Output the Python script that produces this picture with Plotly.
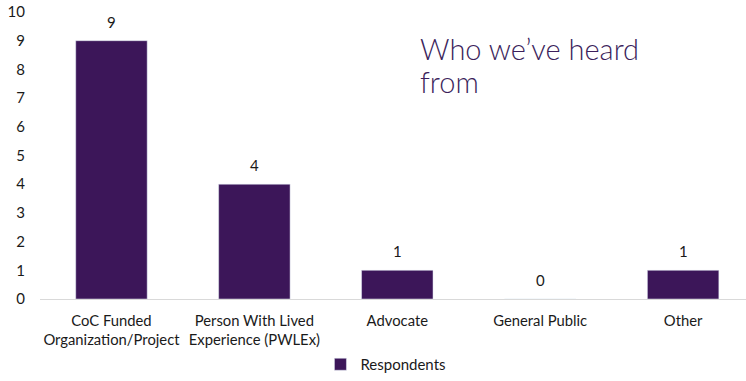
import plotly.graph_objects as go

categories = ["CoC Funded<br>Organization/Project", "Person With Lived<br>Experience (PWLEx)",
              "Advocate", "General Public", "Other"]
values = [9, 4, 1, 0, 1]
series_name = "Respondents"
y_ticks = list(range(0, 11))

bar_color = "#3c1659"
text_color = "#1a1a1a"

fig = go.Figure()
fig.add_trace(go.Bar(
    x=list(range(len(categories))), y=values, name=series_name,
    marker=dict(color=bar_color), width=0.5,
    cliponaxis=False, showlegend=True,
))

annotations = [
    dict(x=i, y=v, xref="x", yref="y", text=str(v), showarrow=False,
         xanchor="center", yanchor="bottom", yshift=8,
         font=dict(family="Lato", size=15, color=text_color))
    for i, v in enumerate(values)
]
annotations += [
    dict(text="Who we\u2019ve heard", xref="paper", yref="paper",
         x=0.535, y=0.94, xanchor="left", yanchor="top", showarrow=False,
         align="left", font=dict(family="Lato", size=29, weight=300, color="#3c1f5c")),
    dict(text="from", xref="paper", yref="paper",
         x=0.535, y=0.825, xanchor="left", yanchor="top", showarrow=False,
         align="left", font=dict(family="Lato", size=29, weight=300, color="#3c1f5c")),
]

fig.update_layout(
    width=746, height=381,
    margin=dict(l=40, r=0, t=12, b=82, autoexpand=False),
    paper_bgcolor="white", plot_bgcolor="white",
    font=dict(family="Lato", size=15, color=text_color),
    xaxis=dict(range=[-0.5, 4.44], tickmode="array", tickvals=list(range(len(categories))),
               ticktext=categories, showgrid=False, showline=True, linecolor="#d9d9d9",
               linewidth=1, ticks="", zeroline=False, tickfont=dict(size=14.8),
               automargin=False, ticklabelstandoff=8),
    yaxis=dict(range=[0, 10], tickvals=y_ticks, showgrid=False, zeroline=False,
               showline=False, ticks="", tickfont=dict(size=15), ticklabelstandoff=14,
               automargin=False),
    legend=dict(orientation="h", x=0.49, xanchor="center", y=-0.012, yref="container",
                yanchor="bottom", font=dict(size=15), itemwidth=30,
                tracegroupgap=0),
    showlegend=True,
    annotations=annotations,
)

fig.write_html("out.html")
